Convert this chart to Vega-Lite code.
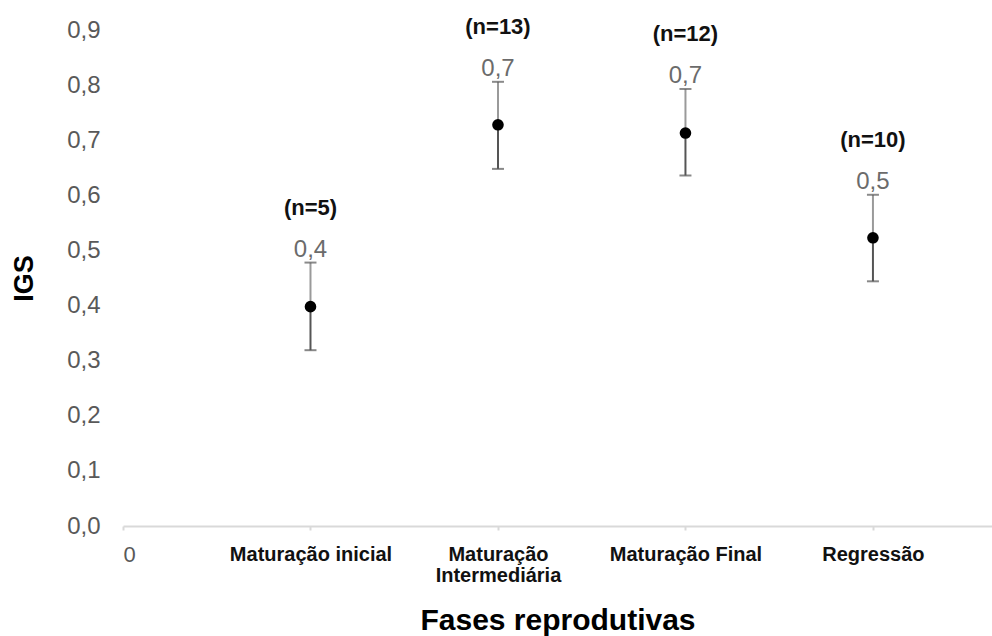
{
  "$schema": "https://vega.github.io/schema/vega-lite/v6.json",
  "autosize": {"type": "none"},
  "padding": {"left": 123, "top": 30, "right": 0, "bottom": 110},
  "width": 869,
  "height": 496,
  "background": "white",
  "config": {"view": {"stroke": null}, "font": "Liberation Sans"},
  "data": {
    "values": [
      {"pos": 1, "fase": "Maturação inicial", "mean": 0.398, "lower": 0.319, "upper": 0.478, "rotulo": "0,4", "n": "(n=5)"},
      {"pos": 2, "fase": "Maturação Intermediária", "mean": 0.728, "lower": 0.648, "upper": 0.806, "rotulo": "0,7", "n": "(n=13)"},
      {"pos": 3, "fase": "Maturação Final", "mean": 0.713, "lower": 0.636, "upper": 0.793, "rotulo": "0,7", "n": "(n=12)"},
      {"pos": 4, "fase": "Regressão", "mean": 0.523, "lower": 0.444, "upper": 0.601, "rotulo": "0,5", "n": "(n=10)"}
    ]
  },
  "encoding": {
    "x": {
      "field": "pos",
      "type": "quantitative",
      "scale": {"domain": [0, 4.635], "nice": false, "zero": false},
      "axis": {
        "title": "Fases reprodutivas",
        "titleFont": "Liberation Sans",
        "titleFontSize": 30,
        "titleFontWeight": "bold",
        "titleColor": "#000000",
        "titlePadding": 20,
        "values": [0, 1, 2, 3, 4],
        "grid": false,
        "domainColor": "#d9d9d9",
        "domainWidth": 2,
        "tickColor": "#d9d9d9",
        "tickSize": 4,
        "tickWidth": 2,
        "labelPadding": 14,
        "labelBaseline": "top",
        "labelLineHeight": 21,
        "labelExpr": "datum.value == 0 ? '0' : datum.value == 1 ? 'Maturação inicial' : datum.value == 2 ? ['Maturação', 'Intermediária'] : datum.value == 3 ? 'Maturação Final' : 'Regressão'",
        "labelFont": "Liberation Sans",
        "labelFontSize": {"condition": {"test": "datum.value == 0", "value": 22}, "value": 20},
        "labelFontWeight": {"condition": {"test": "datum.value == 0", "value": "normal"}, "value": "bold"},
        "labelColor": {"condition": {"test": "datum.value == 0", "value": "#595959"}, "value": "#111111"},
        "labelOverlap": false
      }
    }
  },
  "layer": [
    {
      "mark": {"type": "rule", "color": "#9a9a9a", "strokeWidth": 2},
      "encoding": {
        "y": {
          "field": "mean",
          "type": "quantitative",
          "scale": {"domain": [0, 0.9], "nice": false},
          "axis": {
            "title": "IGS",
            "titleFont": "Liberation Sans",
            "titleFontSize": 27,
            "titleFontWeight": "bold",
            "titleColor": "#000000",
            "titlePadding": 28,
            "values": [0, 0.1, 0.2, 0.3, 0.4, 0.5, 0.6, 0.7, 0.8, 0.9],
            "labelExpr": "replace(format(datum.value, '.1f'), '.', ',')",
            "labelFontSize": 24,
            "labelColor": "#595959",
            "labelPadding": 23,
            "domain": false,
            "ticks": false,
            "grid": false
          }
        },
        "y2": {"field": "upper"}
      }
    },
    {
      "mark": {"type": "rule", "color": "#555555", "strokeWidth": 2},
      "encoding": {
        "y": {"field": "lower", "type": "quantitative"},
        "y2": {"field": "mean"}
      }
    },
    {
      "mark": {"type": "tick", "orient": "horizontal", "color": "#595959", "size": 12, "thickness": 2},
      "encoding": {"y": {"field": "upper", "type": "quantitative"}}
    },
    {
      "mark": {"type": "tick", "orient": "horizontal", "color": "#555555", "size": 12, "thickness": 2},
      "encoding": {"y": {"field": "lower", "type": "quantitative"}}
    },
    {
      "mark": {"type": "point", "filled": true, "shape": "circle", "color": "#000000", "opacity": 1, "size": 135},
      "encoding": {"y": {"field": "mean", "type": "quantitative"}}
    },
    {
      "mark": {"type": "text", "dy": -6, "baseline": "alphabetic", "fontSize": 24, "color": "#6b6b6b", "font": "Liberation Sans"},
      "encoding": {"y": {"field": "upper", "type": "quantitative"}, "text": {"field": "rotulo"}}
    },
    {
      "mark": {"type": "text", "dy": -48, "baseline": "alphabetic", "fontSize": 22, "fontWeight": "bold", "color": "#111111", "font": "Liberation Sans"},
      "encoding": {"y": {"field": "upper", "type": "quantitative"}, "text": {"field": "n"}}
    }
  ]
}
